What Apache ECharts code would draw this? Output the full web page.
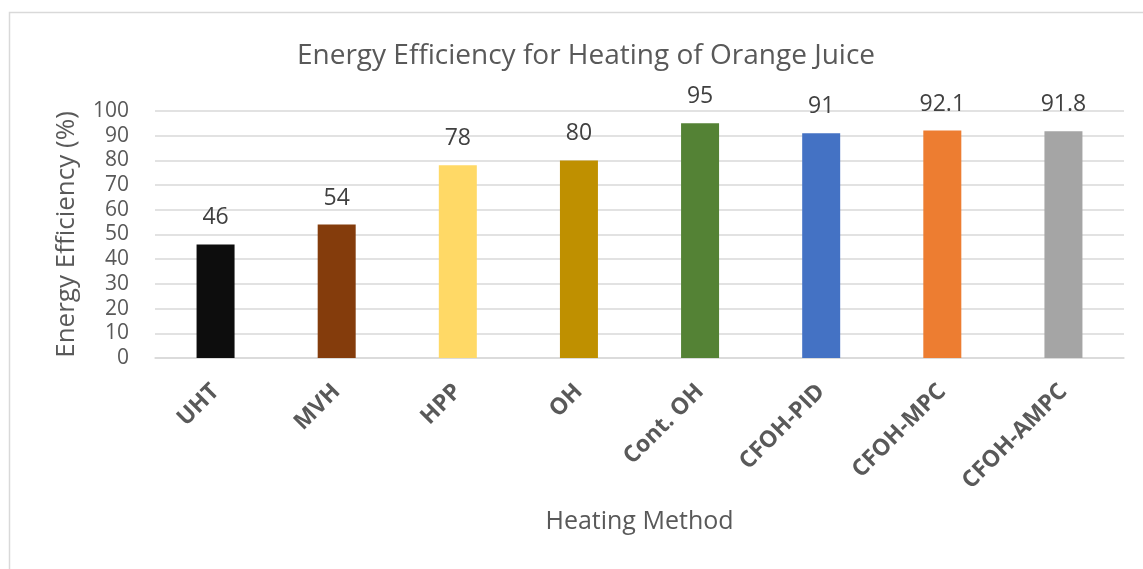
<!DOCTYPE html>
<html>
<head>
<meta charset="utf-8">
<script src="https://cdn.jsdelivr.net/npm/echarts@6/dist/echarts.min.js"></script>
<style>
  html, body { margin: 0; padding: 0; background: #fff; }
  #chart { width: 1143px; height: 569px; }
</style>
</head>
<body>
<div id="chart"></div>
<script>
const categories = ["UHT", "MVH", "HPP", "OH", "Cont. OH", "CFOH-PID", "CFOH-MPC", "CFOH-AMPC"];
const efficiency = [46, 54, 78, 80, 95, 91, 92.1, 91.8];
const barColors = ["#0d0d0d", "#843c0c", "#ffd966", "#bf9000", "#548235", "#4472c4", "#ed7d31", "#a5a5a5"];

const font = "'Open Sans', Lato, sans-serif";
const chart = echarts.init(document.getElementById("chart"));

chart.setOption({
  animation: false,
  backgroundColor: "#fff",
  textStyle: { fontFamily: font },
  graphic: [{
    type: "rect",
    shape: { x: 9.5, y: 12.5, width: 1200, height: 600 },
    style: { fill: "none", stroke: "#d9d9d9", lineWidth: 1.5 },
    silent: true
  }],
  title: {
    text: "Energy Efficiency for Heating of Orange Juice",
    left: 581,
    textAlign: "center",
    top: 37,
    textStyle: { fontFamily: font, fontSize: 28, fontWeight: "normal", color: "#595959" }
  },
  grid: { left: 155, right: 19, top: 111, bottom: 211, containLabel: false },
  xAxis: {
    type: "category",
    data: categories,
    name: "Heating Method",
    nameLocation: "middle",
    nameGap: 151,
    nameTextStyle: { fontFamily: font, fontSize: 25, color: "#595959" },
    axisLine: { lineStyle: { color: "#d9d9d9", width: 1.5 } },
    axisTick: { show: false },
    axisLabel: {
      rotate: 45,
      interval: 0,
      margin: 30,
      fontFamily: font,
      fontSize: 23,
      fontWeight: "bold",
      color: "#595959"
    }
  },
  yAxis: {
    type: "value",
    min: 0,
    max: 100,
    interval: 10,
    name: "Energy Efficiency (%)",
    nameLocation: "middle",
    nameGap: 75,
    nameTextStyle: { fontFamily: font, fontSize: 26, color: "#595959" },
    axisLine: { show: false },
    axisTick: { show: false },
    axisLabel: { fontFamily: font, fontSize: 21, color: "#595959", margin: 26 },
    splitLine: { lineStyle: { color: "#d9d9d9", width: 1.5 } }
  },
  series: [{
    type: "bar",
    data: efficiency.map((v, i) => ({ value: v, itemStyle: { color: barColors[i] } })),
    barWidth: 38,
    label: {
      show: true,
      position: "top",
      distance: 15,
      fontFamily: font,
      fontSize: 23,
      color: "#404040"
    }
  }]
});
</script>
</body>
</html>
